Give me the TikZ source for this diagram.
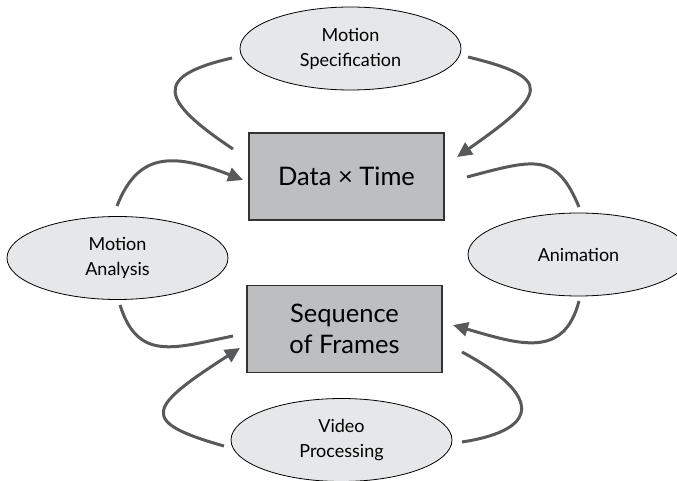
\documentclass[tikz,border=0pt]{standalone}
\usepackage{fontspec}
\setmainfont{Lato}
\usetikzlibrary{shapes.geometric,arrows.meta,calc}
\definecolor{ellfill}{HTML}{E6E7E8}
\definecolor{boxfill}{HTML}{BCBEC0}
\definecolor{boxline}{HTML}{333333}
\definecolor{arrcol}{HTML}{58595B}
\tikzset{
  ellbox/.style={ellipse, draw=black, line width=0.8pt, fill=ellfill,
    minimum width=221pt, minimum height=83pt, inner sep=0pt,
    align=center, font=\fontsize{18}{25}\selectfont},
  rectbox/.style={rectangle, draw=boxline, line width=1.3pt, fill=boxfill,
    minimum width=195pt, minimum height=87pt, inner sep=0pt,
    align=center, font=\fontsize{25.5}{31}\selectfont},
  conn/.style={draw=arrcol, line width=3pt},
  arr/.style={conn, -{Triangle[length=15pt,width=14pt]}}
}
\begin{document}
\begin{tikzpicture}[x=1pt,y=-1pt]
\useasboundingbox (0,0) rectangle (677,481);
\node[ellbox] (ms) at (350.5,48.5) {Motion\\Specification};
\node[ellbox] (ma) at (117.5,258) {Motion\\Analysis};
\node[ellbox] (an) at (578.5,254.5) {Animation};
\node[ellbox] (vp) at (341.5,440) {Video\\Processing};
\node[rectbox] (dt) at (346.5,176.5) {Data × Time};
\node[rectbox] (sf) at (344.5,329) {Sequence\\of Frames};
% Motion Specification
\draw[arr] ($(ms)+(117.5,8.5)$) .. controls +(87,21) and +(90,-63) .. ($(dt)+(110.5,-19.5)$);
\draw[conn] ($(dt)+(-113.5,-27.5)$) .. controls +(-75,-50) and +(-78,18) .. ($(ms)+(-118.5,9.5)$);
% Motion Analysis
\draw[arr] ($(ma)+(-0.5,-52)$) .. controls +(20,-51) and +(-74,-29) .. ($(dt)+(-103.5,3.5)$);
\draw[conn] ($(sf)+(-111.5,7)$) .. controls +(-59,12) and +(18,57) .. ($(ma)+(2.5,47)$);
% Animation
\draw[conn] ($(dt)+(120.5,0.5)$) .. controls +(68,-18) and +(-23,-55) .. ($(an)+(0.5,-47.5)$);
\draw[arr] ($(an)+(0.5,46.5)$) .. controls +(-15,58) and +(67,19.6) .. ($(sf)+(108.5,-4)$);
% Video Processing
\draw[arr] ($(vp)+(-117.5,6)$) .. controls +(-86.4,-24.3) and +(-92.4,59.4) .. ($(sf)+(-104.5,19)$);
\draw[conn] ($(sf)+(117.5,23)$) .. controls +(74.8,40) and +(84,-13) .. ($(vp)+(120.5,2)$);
\end{tikzpicture}
\end{document}
